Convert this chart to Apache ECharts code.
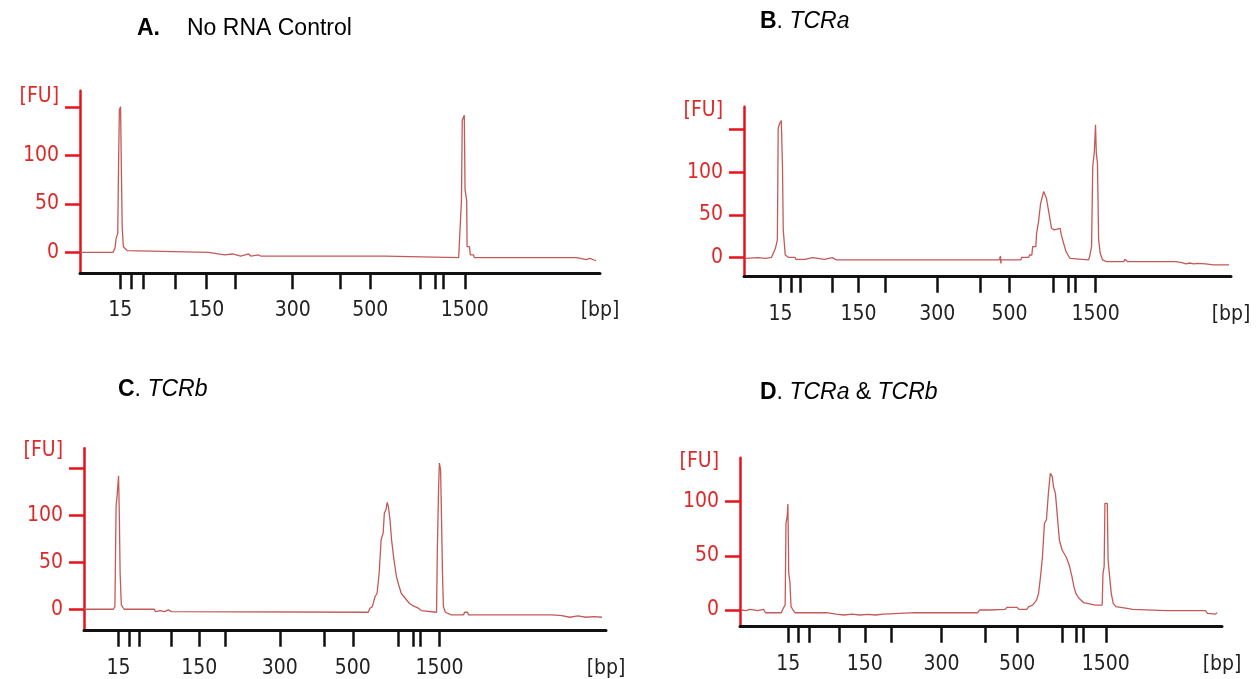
<!DOCTYPE html>
<html>
<head>
<meta charset="utf-8">
<script src="https://cdn.jsdelivr.net/npm/echarts@6/dist/echarts.min.js"></script>
<style>
  html, body { margin: 0; padding: 0; background: #fff; }
  #main { width: 1256px; height: 679px; }
</style>
</head>
<body>
<div id="main"></div>
<script>
// ladder sizes of the DNA 1000 kit, and which of them get a label
var ladderSizes = [15, 25, 50, 100, 150, 200, 300, 400, 500, 700, 850, 1000, 1500];
var labeledSizes = [15, 150, 300, 500, 1500];
var fuTicks = [0, 50, 100, 150];
var fuTicksD = [0, 50, 100];
var fuLabels = [0, 50, 100];

// migration position (0-100 scan units) of every ladder band, per run
var ladderA = [7.72, 9.88, 12.2, 18.3, 24.3, 29.9, 40.9, 50.0, 55.8, 65.5, 68.3, 69.9, 74.0];
var ladderB = [7.5, 9.68, 11.5, 18.1, 23.5, 29.1, 39.7, 48.6, 54.5, 63.5, 66.5, 68.0, 72.2];
var ladderC = [6.6, 8.7, 10.5, 16.8, 22.1, 27.1, 37.5, 46.0, 51.5, 60.2, 63.1, 64.4, 68.1];
var ladderD = [10.0, 12.0, 14.4, 20.5, 25.9, 31.4, 41.8, 50.8, 57.5, 66.8, 69.8, 71.3, 75.9];

// electropherogram traces: [position, FU]
var traceA = [
  [0, 0], [6.33, 0], [6.72, 4.1], [6.95, 14.4], [7.26, 19.6], [7.41, 88.3], [7.57, 146.7], [7.80, 150.2],
  [7.95, 88.3], [8.11, 26.5], [8.34, 5.8], [8.65, 4.1], [9.11, 1.7], [9.42, 0], [24.71, 0], [24.86, -1.7],
  [27.80, -2.7], [29.34, -1.7], [30.89, -3.8], [32.43, -1.7], [32.82, -3.8], [34.36, -2.7], [34.75, -3.8],
  [57.14, -3.8], [57.30, -2.7], [58.69, -3.8], [58.84, -5.5], [72.82, -5.5], [73.05, 19.6], [73.36, 53.9],
  [73.51, 136.1], [73.90, 141.2], [74.05, 64.3], [74.36, 53.9], [74.44, 5.8], [74.90, 5.8], [75.06, -2.7],
  [75.68, -2.7], [75.83, -5.5], [95.37, -5.5], [95.75, -7.2], [96.53, -6.5], [97.30, -7.6], [98.07, -6.2],
  [98.84, -7.9], [99.23, -8.6]
];
var traceB = [
  [0.40, -1.2], [2.82, -0.4], [3.23, -2.0], [4.44, -1.2], [5.65, 0], [6.05, 0.8], [6.45, 10.6], [6.85, 20.4],
  [7.02, 151.8], [7.34, 157.6], [7.66, 160.8], [7.90, 106.7], [8.06, 32.2], [8.47, 2.7], [9.11, 0], [10.48, 0],
  [10.65, -2.4], [12.50, -2.4], [12.90, -0.4], [14.11, -0.4], [14.52, -2.4], [16.53, -2.4], [16.69, -0.4],
  [18.15, -0.4], [18.31, -2.4], [18.95, -3.1], [52.42, -3.1], [52.58, -3.1], [52.66, 1.6], [52.74, -7.1],
  [52.82, -3.1], [56.85, -3.1], [57.02, 0], [58.47, 0], [58.63, 2.7], [59.11, 2.7], [59.27, 12.5], [59.92, 12.5],
  [60.08, 28.2], [60.48, 42.0], [60.89, 62.7], [61.29, 62.7], [61.53, 77.3], [61.94, 77.3], [62.10, 69.4],
  [62.50, 67.5], [62.74, 47.8], [63.15, 34.1], [63.71, 32.2], [64.11, 34.1], [64.92, 34.1], [65.16, 26.3],
  [65.56, 24.3], [65.73, 14.5], [66.13, 6.7], [66.53, 2.7], [66.94, -1.2], [67.34, -3.1], [70.73, -3.1],
  [70.97, 0.8], [71.37, 12.5], [71.61, 106.7], [71.94, 124.3], [72.18, 155.7], [72.34, 122.4], [72.58, 110.6],
  [72.82, 20.4], [73.15, 4.7], [73.63, -3.1], [74.44, -5.1], [77.98, -5.1], [78.23, -2.4], [78.63, -2.4],
  [78.79, -5.1], [88.71, -5.1], [89.11, -7.1], [89.92, -6.3], [90.73, -7.8], [91.53, -6.7], [92.34, -7.8],
  [93.15, -7.1], [94.76, -7.8], [95.16, -9.0], [96.37, -9.0], [96.53, -7.1], [96.77, -9.0], [97.82, -9.0],
  [97.98, -7.1], [98.23, -9.0], [99.60, -9.0]
];
var traceC = [
  [0, 0], [5.62, 0], [5.92, 2.8], [6.15, 109.2], [6.38, 123.4], [6.62, 141.8], [6.77, 98.6], [6.92, 38.3],
  [7.15, 4.6], [7.69, 0], [13.46, 0], [13.69, -2.5], [14.62, -1.4], [15.38, -2.5], [16.15, -0.7], [16.77, -2.5],
  [16.92, -3.2], [54.46, -3.2], [54.77, 1.1], [55.23, 2.8], [55.77, 13.5], [56.15, 17.0], [56.54, 38.3],
  [56.92, 73.8], [57.31, 80.9], [57.54, 102.1], [57.85, 105.7], [58.08, 113.5], [58.31, 109.2], [58.62, 95.0],
  [58.92, 73.8], [59.38, 52.5], [59.85, 34.8], [60.38, 24.1], [60.77, 17.0], [61.54, 11.7], [62.31, 6.4],
  [63.08, 3.5], [63.85, 1.8], [64.62, -1.4], [65.00, -3.2], [67.54, -3.2], [67.69, 63.1], [67.92, 127.0],
  [68.08, 155.3], [68.31, 148.2], [68.46, 105.7], [68.69, 34.8], [68.85, 2.8], [69.23, -3.2], [70.38, -6.0],
  [72.69, -6.0], [72.92, -3.2], [73.46, -3.2], [73.69, -6.0], [89.62, -6.0], [90.0, -7.8], [91.54, -6.7],
  [93.08, -8.5], [94.62, -7.1], [96.15, -8.5], [97.69, -7.8], [99.23, -8.5]
];
var traceD = [
  [0.24, 0], [0.57, 1.5], [1.22, -0.6], [2.04, 0.6], [3.67, -0.6], [4.89, 0.6], [5.30, -2.5], [8.56, -2.5],
  [8.96, 1.5], [9.37, 4.6], [9.54, 80.0], [9.78, 86.2], [9.94, 97.8], [10.11, 33.8], [10.35, 26.2], [10.59, 3.1],
  [11.00, 0], [11.41, -2.5], [17.93, -2.5], [18.17, -4.3], [19.97, -3.7], [21.60, -4.6], [23.23, -3.7],
  [24.86, -4.6], [26.49, -4.0], [28.12, -4.6], [29.75, -3.7], [30.15, -2.5], [36.27, -2.5], [36.67, -4.3],
  [37.08, -2.5], [49.31, -2.5], [49.71, 0], [51.75, 0], [52.16, 1.2], [55.01, 0.6], [55.42, 2.5], [57.46, 2.5],
  [57.86, 0.6], [59.49, 0.6], [59.90, 3.1], [60.72, 4.6], [61.53, 9.2], [61.94, 15.4], [62.35, 30.8],
  [62.75, 49.2], [63.16, 80.0], [63.57, 83.1], [63.98, 107.7], [64.38, 126.2], [64.79, 123.1], [65.04, 113.8],
  [65.44, 107.7], [65.85, 86.2], [66.26, 64.6], [66.83, 55.4], [67.64, 49.2], [68.30, 41.5], [68.87, 30.8],
  [69.28, 21.5], [69.68, 15.4], [70.33, 10.8], [71.31, 6.8], [73.76, 4.6], [75.14, 4.6], [75.31, 33.8],
  [75.55, 40.0], [75.71, 98.5], [76.20, 98.5], [76.37, 46.2], [76.69, 30.8], [77.02, 15.4], [77.43, 6.2],
  [78.00, 3.1], [80.28, 1.5], [81.50, 0.6], [81.74, -0.6], [88.43, -0.6], [88.83, 0.6], [89.65, -0.6],
  [96.58, -0.6], [96.98, -3.1], [97.39, -2.2], [98.61, -3.7], [99.02, -2.5]
];

var axisRed = '#e3141c';
var textRed = '#dc2a2a';
var traceColor = '#c45a58';
var labelFont = '"DejaVu Sans Condensed", "Liberation Sans", sans-serif';
var labelSize = 21;

// panel frames
var panels = [
  {trace: traceA, ladder: ladderA, fuTicks: fuTicks, left: 80, top: 90.7, width: 520, height: 182.6, yMin: -21.6, yMax: 166.6, fuGap: -6},
  {trace: traceB, ladder: ladderB, fuTicks: fuTicks, left: 744, top: 106.7, width: 487, height: 170, yMin: -22.8, yMax: 177, fuGap: -4},
  {trace: traceC, ladder: ladderC, fuTicks: fuTicks, left: 84, top: 448.3, width: 522, height: 182.4, yMin: -22.8, yMax: 171, fuGap: -2},
  {trace: traceD, ladder: ladderD, fuTicks: fuTicksD, left: 740, top: 457.7, width: 482, height: 169, yMin: -15.4, yMax: 140.6, fuGap: -4}
];

var grids = [], xAxes = [], yAxes = [], series = [];

panels.forEach(function (p, i) {
  var labelPos = labeledSizes.map(function (s) { return p.ladder[ladderSizes.indexOf(s)]; });
  grids.push({left: p.left, top: p.top, width: p.width, height: p.height, containLabel: false, outerBoundsMode: 'none'});
  xAxes.push({
    type: 'value', gridIndex: i, min: 0, max: 100,
    name: '[bp]', nameLocation: 'end', nameGap: 0,
    nameTextStyle: {color: '#222', fontFamily: labelFont, fontSize: labelSize, align: 'center', verticalAlign: 'top', padding: [27, 0, 0, 0]},
    axisLine: {show: true, onZero: false, lineStyle: {color: '#111', width: 3}},
    axisTick: {show: true, inside: false, length: 16, customValues: p.ladder, lineStyle: {color: '#111', width: 2.5}},
    axisLabel: {
      show: true, margin: 27, customValues: labelPos, color: '#222', fontFamily: labelFont, fontSize: labelSize,
      formatter: function (v) {
        var best = 0;
        for (var k = 0; k < labelPos.length; k++) {
          if (Math.abs(labelPos[k] - v) < Math.abs(labelPos[best] - v)) best = k;
        }
        return String(labeledSizes[best]);
      }
    },
    splitLine: {show: false}
  });
  yAxes.push({
    type: 'value', gridIndex: i, min: p.yMin, max: p.yMax,
    name: '[FU]', nameLocation: 'end', nameGap: p.fuGap,
    nameTextStyle: {color: textRed, fontFamily: labelFont, fontSize: labelSize, align: 'right', verticalAlign: 'middle', padding: [0, 21, 0, 0]},
    axisLine: {show: true, onZero: false, lineStyle: {color: axisRed, width: 2.5}},
    axisTick: {show: true, inside: false, length: 15, customValues: p.fuTicks, lineStyle: {color: axisRed, width: 2.5}},
    axisLabel: {show: true, margin: 21, customValues: fuLabels, color: textRed, fontFamily: labelFont, fontSize: labelSize},
    splitLine: {show: false}
  });
  series.push({
    type: 'line', xAxisIndex: i, yAxisIndex: i, data: p.trace,
    showSymbol: false, symbol: 'none', silent: true,
    lineStyle: {color: traceColor, width: 1.3}
  });
});

var titleFont = 'Liberation Sans';
var titleRich = {
  b: {fontFamily: titleFont, fontSize: 23, fontWeight: 'bold', color: '#000'},
  n: {fontFamily: titleFont, fontSize: 23, fontWeight: 'normal', color: '#000'},
  gap: {fontFamily: titleFont, fontSize: 23, fontWeight: 'normal', color: '#000', padding: [0, 0, 0, 27]},
  i: {fontFamily: titleFont, fontSize: 23, fontWeight: 'normal', fontStyle: 'italic', color: '#000'}
};

var option = {
  backgroundColor: '#fff',
  animation: false,
  title: [
    {text: '{b|A.}{gap|No RNA Control}', left: 137, top: 17, padding: 0, textStyle: {fontWeight: 'normal', rich: titleRich}},
    {text: '{b|B}{n|. }{i|TCRa}', left: 760, top: 10, padding: 0, textStyle: {fontWeight: 'normal', rich: titleRich}},
    {text: '{b|C}{n|. }{i|TCRb}', left: 118, top: 378, padding: 0, textStyle: {fontWeight: 'normal', rich: titleRich}},
    {text: '{b|D}{n|. }{i|TCRa}{n| & }{i|TCRb}', left: 760, top: 381, padding: 0, textStyle: {fontWeight: 'normal', rich: titleRich}}
  ],
  grid: grids,
  xAxis: xAxes,
  yAxis: yAxes,
  series: series
};

var chart = echarts.init(document.getElementById('main'), null, {renderer: 'canvas'});
chart.setOption(option);
</script>
</body>
</html>
